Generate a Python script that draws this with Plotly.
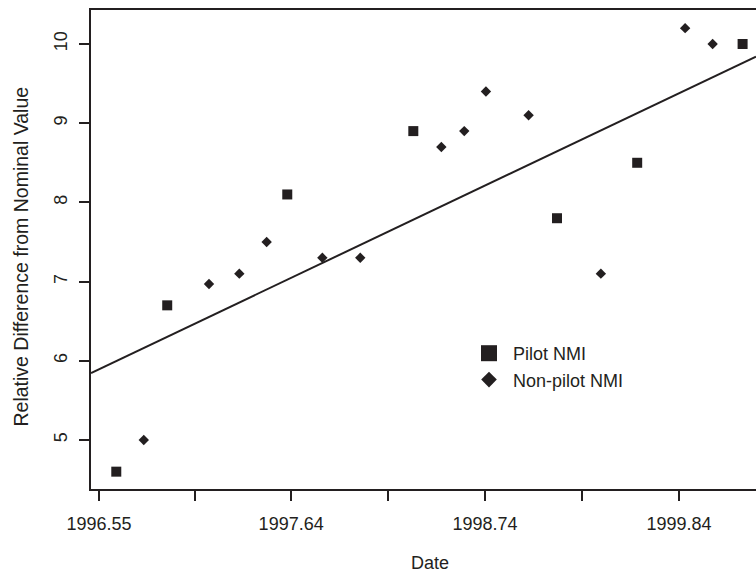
import plotly.graph_objects as go

# ---- data ----
pilot_date = [1996.648, 1996.937, 1997.618, 1998.333, 1999.148, 1999.603, 2000.201]
pilot_diff = [4.60, 6.70, 8.10, 8.90, 7.80, 8.50, 10.00]

nonpilot_date = [1996.804, 1997.174, 1997.346, 1997.501, 1997.817, 1998.032, 1998.492,
                 1998.622, 1998.745, 1998.987, 1999.397, 1999.875, 2000.031]
nonpilot_diff = [5.00, 6.97, 7.10, 7.50, 7.30, 7.30, 8.70,
                 8.90, 9.40, 9.10, 7.10, 10.20, 10.00]

# fitted trend line: diff = fit_intercept + fit_slope * (date - fit_origin)
fit_origin = 1996.5
fit_intercept = 5.840
fit_slope = 1.059

x_tick_vals = [1996.55, 1997.095, 1997.64, 1998.19, 1998.74, 1999.29, 1999.84]
x_tick_text = ["1996.55", "", "1997.64", "", "1998.74", "", "1999.84"]
y_tick_vals = [5, 6, 7, 8, 9, 10]

x_range = [1996.5046, 2000.277]
y_range = [4.381, 10.429]

INK = "#231f20"
FONT = "Liberation Sans, Arial, Helvetica, sans-serif"

fig = go.Figure()

fit_x = x_range
fit_y = [fit_intercept + fit_slope * (v - fit_origin) for v in fit_x]
fig.add_trace(go.Scatter(x=fit_x, y=fit_y, mode="lines",
                         line=dict(color=INK, width=2), showlegend=False,
                         hoverinfo="skip"))

fig.add_trace(go.Scatter(x=pilot_date, y=pilot_diff, mode="markers",
                         marker=dict(symbol="square", size=10, color=INK),
                         showlegend=False))
fig.add_trace(go.Scatter(x=nonpilot_date, y=nonpilot_diff, mode="markers",
                         marker=dict(symbol="diamond", size=8, color=INK),
                         showlegend=False))

# legend entries
fig.add_trace(go.Scatter(x=[None], y=[None], mode="markers", name="Pilot NMI",
                         marker=dict(symbol="square", size=17, color=INK)))
fig.add_trace(go.Scatter(x=[None], y=[None], mode="markers", name="Non-pilot NMI",
                         marker=dict(symbol="diamond", size=12, color=INK)))

fig.update_layout(
    width=756, height=574,
    margin=dict(l=91, r=0, t=10, b=85),
    paper_bgcolor="white", plot_bgcolor="white",
    font=dict(family=FONT, size=18, color=INK),
    showlegend=True,
    legend=dict(x=(465 - 91) / 665, y=(489 - 335) / 479, xanchor="left", yanchor="top",
                bgcolor="rgba(0,0,0,0)", borderwidth=0, itemsizing="trace", itemwidth=38,
                font=dict(family=FONT, size=18, color=INK), tracegroupgap=0),
    xaxis=dict(range=x_range, tickmode="array", tickvals=x_tick_vals, ticktext=x_tick_text,
               showgrid=False, zeroline=False, showline=True, linecolor=INK, linewidth=2,
               mirror=True, ticks="outside", ticklen=10, tickwidth=2, tickcolor=INK,
               ticklabelstandoff=7),
    yaxis=dict(range=y_range, tickmode="array", tickvals=y_tick_vals,
               showgrid=False, zeroline=False, showline=True, linecolor=INK, linewidth=2,
               ticks="outside", ticklen=10, tickwidth=2, tickcolor=INK,
               tickangle=-90, ticklabelstandoff=5),
    annotations=[
        dict(text="Date", xref="paper", yref="paper", x=(430 - 91) / 665, y=-(563 - 489) / 479,
             xanchor="center", yanchor="middle", showarrow=False,
             font=dict(family=FONT, size=18, color=INK)),
        dict(text="Relative Difference from Nominal Value", xref="paper", yref="paper",
             x=-(91 - 20) / 665, y=(489 - 256.5) / 479, xanchor="center", yanchor="middle",
             textangle=-90, showarrow=False, font=dict(family=FONT, size=19.5, color=INK)),
    ],
)

fig.write_html("out.html", config={"displayModeBar": False},
               post_script="document.body.style.margin='0px';document.body.style.overflow='hidden';")
